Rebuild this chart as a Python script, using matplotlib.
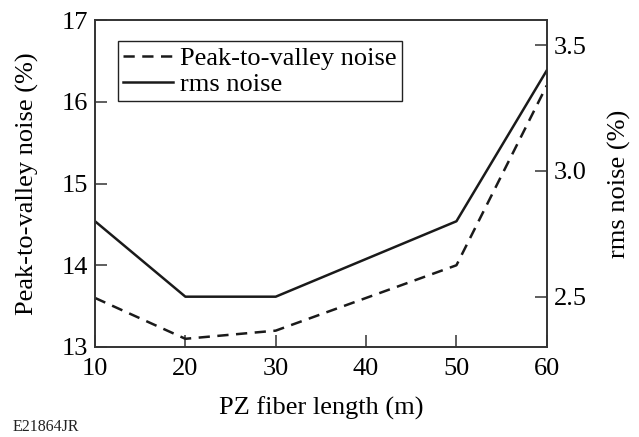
import matplotlib
matplotlib.use("Agg")
import matplotlib.pyplot as plt

plt.rcParams['font.family'] = ['Liberation Serif', 'DejaVu Serif']

fiber_length = [10, 20, 30, 50, 60]
pv_noise = [13.6, 13.1, 13.2, 14.0, 16.2]
rms_noise = [2.8, 2.5, 2.5, 2.8, 3.4]
x_ticks = [10, 20, 30, 40, 50, 60]
left_ticks = [13, 14, 15, 16, 17]
right_ticks = [2.5, 3.0, 3.5]

fig = plt.figure(figsize=(6.39, 4.37), dpi=100)
ax = fig.add_axes([0.1487, 0.206, 0.707, 0.748])
ax2 = ax.twinx()

fs = 19
axcol = '#333333'

l1, = ax.plot(fiber_length, pv_noise, color='#1a1a1a', lw=1.8, linestyle=(0, (4.5, 3)))
l2, = ax2.plot(fiber_length, rms_noise, color='#1a1a1a', lw=1.8)

ax.set_xlim(10, 60)
ax.set_ylim(13, 17)
ax2.set_ylim(2.3, 3.6)
ax.set_xticks(x_ticks)
ax.set_yticks(left_ticks)
ax2.set_yticks(right_ticks)
ax2.set_yticklabels(['2.5', '3.0', '3.5'])

for a in (ax, ax2):
    for s in a.spines.values():
        s.set_color(axcol)
        s.set_linewidth(1.2)

ax.tick_params(axis='y', direction='in', length=8.5, width=1.1, color=axcol,
               labelsize=fs, right=False, pad=5)
ax.tick_params(axis='x', direction='in', length=8.5, width=1.1, color=axcol,
               labelsize=fs, top=False, pad=8)
ax2.tick_params(axis='y', direction='in', length=8.5, width=1.1, color=axcol,
                labelsize=fs, pad=5)

ax.set_xlabel('PZ fiber length (m)', fontsize=fs, labelpad=12)
ax.set_ylabel('Peak-to-valley noise (%)', fontsize=fs, labelpad=16)
ax2.set_ylabel('rms noise (%)', fontsize=fs, labelpad=15)

leg = ax.legend([l1, l2], ['Peak-to-valley noise', 'rms noise'], loc='upper left',
                bbox_to_anchor=(0.05, 0.935), fontsize=fs, fancybox=False,
                edgecolor='#222222', framealpha=1, handlelength=1.9,
                handletextpad=0.25, borderpad=0.2, labelspacing=0.1, borderaxespad=0)
leg.get_frame().set_linewidth(1.0)

fig.text(0.02, 0.013, 'E21864JR', fontsize=11.5, color='#222222')

fig.savefig('out.png', dpi=100)
